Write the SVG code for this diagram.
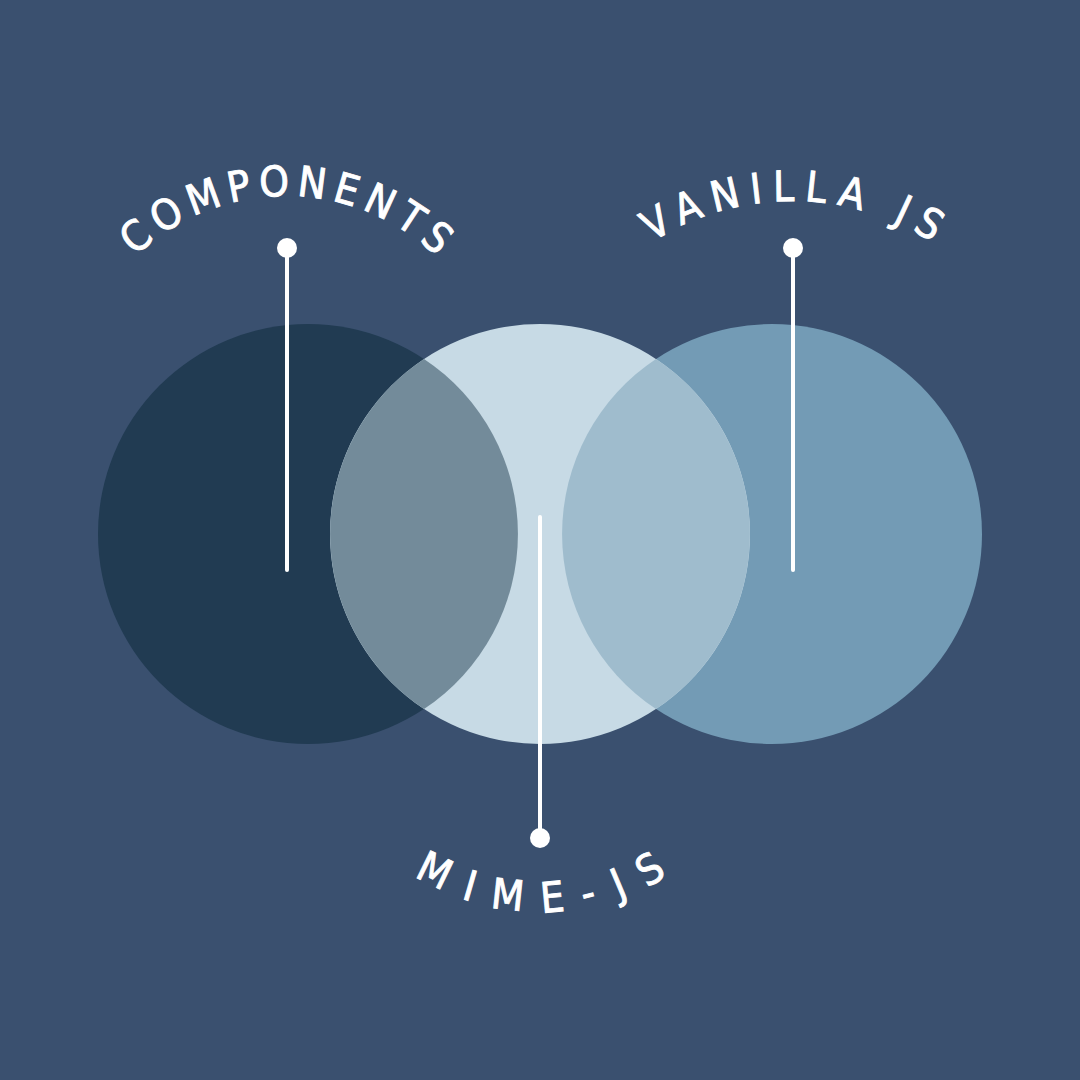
<svg xmlns="http://www.w3.org/2000/svg" width="1080" height="1080" viewBox="0 0 1080 1080">
  <style>
    .lbl { font-family: "Liberation Sans Narrow", "DejaVu Sans Condensed", "Liberation Sans", sans-serif; font-size: 42px; fill: #ffffff; stroke: #ffffff; stroke-width: 0.9; }
    .stem { stroke: #ffffff; stroke-width: 4; stroke-linecap: round; fill: none; }
    .dot { fill: #ffffff; }
  </style>
  <defs>
    <path id="arcComp" d="M 68 414 A 218 218 0 0 1 504 414"/>
    <path id="arcVan" d="M 534 459 A 258 258 0 0 1 1050 459"/>
    <path id="arcMime" d="M 305 676 A 236 236 0 0 0 777 676"/>
  </defs>
  <rect width="1080" height="1080" fill="#3a506f"/>
  <g id="circles">
    <circle id="circle-left" cx="308" cy="534" r="210" fill="#213b52"/>
    <circle id="circle-right" cx="772" cy="534" r="210" fill="#739bb5"/>
    <circle id="circle-center" cx="540" cy="534" r="210" fill="#c7dae5"/>
    <path id="overlap-left" d="M 424 359 A 210 210 0 0 1 424 709 A 210 210 0 0 1 424 359 Z" fill="#738b9a"/>
    <path id="overlap-right" d="M 656 359 A 210 210 0 0 1 656 709 A 210 210 0 0 1 656 359 Z" fill="#9fbccd"/>
  </g>
  <g id="connectors">
    <line class="stem" x1="287" y1="248" x2="287" y2="570"/>
    <line class="stem" x1="793" y1="248" x2="793" y2="570"/>
    <line class="stem" x1="540" y1="517" x2="540" y2="838"/>
    <circle class="dot" cx="287" cy="248" r="10"/>
    <circle class="dot" cx="793" cy="248" r="10"/>
    <circle class="dot" cx="540" cy="838" r="10"/>
  </g>
  <g id="label-components">
    <text class="lbl" letter-spacing="7.1" text-anchor="middle" dx="3.5"><textPath href="#arcComp" startOffset="50%">COMPONENTS</textPath></text>
  </g>
  <g id="label-vanilla">
    <text class="lbl" letter-spacing="10.2" text-anchor="middle" dx="5.1"><textPath href="#arcVan" startOffset="50%">VANILLA JS</textPath></text>
  </g>
  <g id="label-mime">
    <text class="lbl" letter-spacing="19.3" text-anchor="middle" dx="9.6"><textPath href="#arcMime" startOffset="50%">MIME-JS</textPath></text>
  </g>
</svg>
